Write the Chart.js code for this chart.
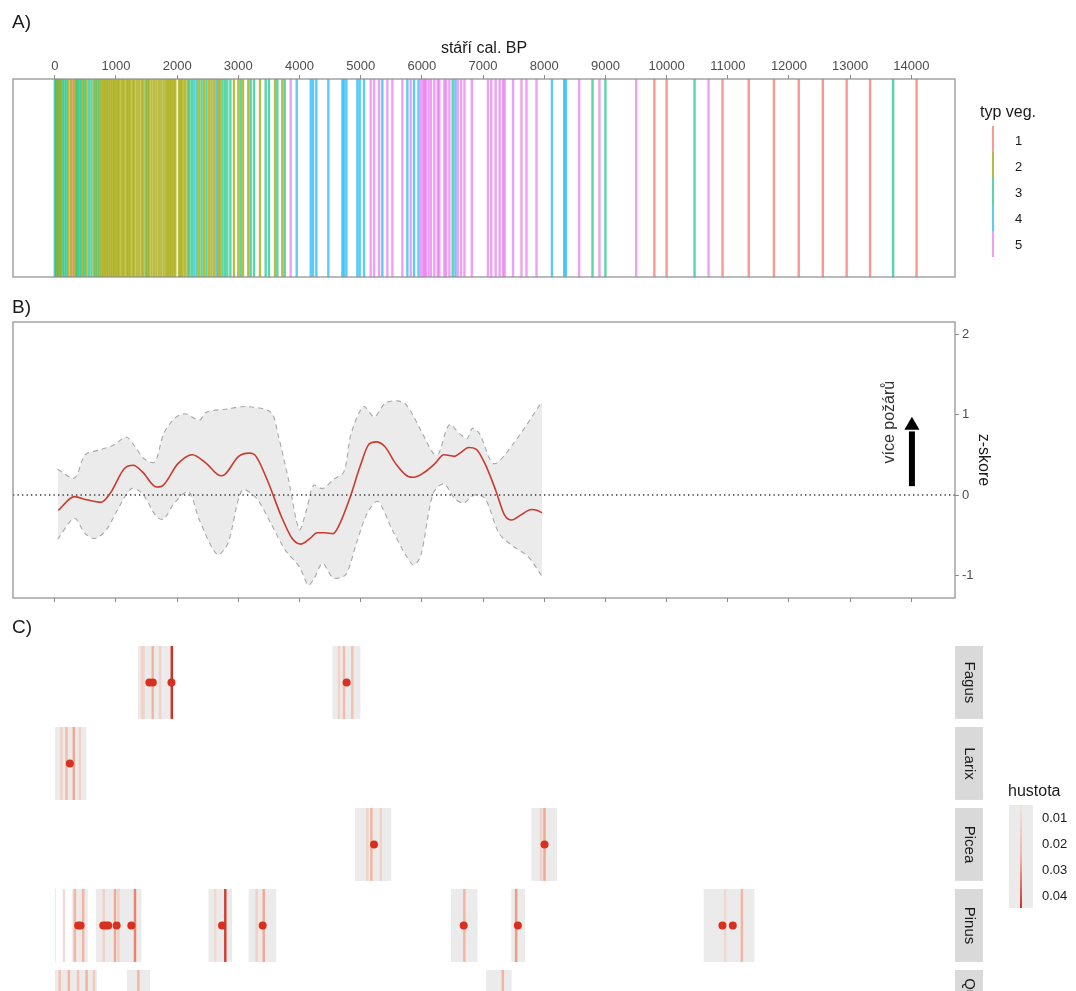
<!DOCTYPE html>
<html>
<head>
<meta charset="utf-8">
<script src="https://cdn.jsdelivr.net/npm/chart.js@4.4.0/dist/chart.umd.min.js"></script>
<style>
  body { margin: 0; background: #fff; font-family: "Liberation Sans", Arial, sans-serif; }
  #wrap { position: relative; width: 1076px; height: 991px; overflow: hidden; }
  canvas { position: absolute; left: 0; }
  .txt { position: absolute; white-space: nowrap; line-height: 1; color: #1a1a1a; }
  .panel { font-size: 19px; }
  .legtitle { font-size: 16px; }
  .legnum { font-size: 13px; color: #1a1a1a; }
</style>
</head>
<body>
<div id="wrap">
  <canvas id="chartA" width="1076" height="290" style="top:0"></canvas>
  <canvas id="chartB" width="1076" height="320" style="top:290px"></canvas>
  <canvas id="chartC" width="1076" height="381" style="top:610px"></canvas>

  <div class="txt panel" style="left:12px;top:12px">A)</div>
  <div class="txt panel" style="left:12px;top:297px">B)</div>
  <div class="txt panel" style="left:12px;top:617px">C)</div>

  <div class="txt legtitle" style="left:980px;top:104px">typ veg.</div>

  <div class="txt legtitle" style="left:1008px;top:783px">hustota</div>
</div>

<script>
// ---------- data ----------
const ageTicks = [0, 1000, 2000, 3000, 4000, 5000, 6000, 7000, 8000, 9000, 10000, 11000, 12000, 13000, 14000];

// A) dated samples (cal. BP) and their vegetation type
const vegYears = [
  0, 20, 40, 60, 80, 100, 130, 160, 190, 220, 260, 290, 320, 350, 370, 400, 430, 460, 490, 520, 560,
  600, 640, 670, 700, 730, 760, 790, 820, 850, 880, 910, 940, 970, 1000, 1030, 1060, 1100, 1130, 1170, 1200,
  1230, 1270, 1300, 1340, 1380, 1420, 1450, 1490, 1515, 1540, 1580, 1620, 1660, 1700, 1740, 1780, 1820, 1850, 1880, 1910, 1940,
  1970, 2030, 2060, 2090, 2130, 2170, 2200, 2240, 2280, 2320, 2360, 2400, 2440, 2480, 2520, 2560, 2600, 2640, 2670, 2700, 2740, 2780, 2820,
  2870, 2929, 3000, 3038, 3076, 3163, 3202, 3256, 3354, 3447, 3501, 3600, 3638, 3719, 3758, 3856, 3954, 4183, 4221, 4275, 4471,
  4700, 4728, 4766, 4946, 4984, 5055, 5164, 5218, 5300, 5354, 5436, 5518, 5681, 5763, 5818, 5872, 5945, 5984, 6022, 6044,
  6066, 6110, 6148, 6203, 6258, 6285, 6367, 6395, 6450, 6504, 6548, 6586, 6641, 6696, 6816, 7080, 7134, 7206, 7271, 7326,
  7353, 7490, 7628, 7710, 7874, 8126, 8326, 8354, 8571, 8789, 8903, 9000, 9503, 9800, 10000, 10457, 10686, 10914, 11343, 11754,
  12160, 12554, 12943, 13326, 13703, 14086
];
const vegTypes = [
  3, 4, 2, 3, 2, 2, 3, 3, 3, 2, 2, 1, 2, 2, 3, 3, 3, 2, 3, 2, 3,
  3, 2, 3, 2, 3, 2, 2, 2, 2, 2, 2, 2, 2, 2, 2, 2, 2, 2, 2, 2,
  2, 2, 2, 2, 2, 2, 2, 3, 2, 2, 2, 2, 2, 2, 2, 2, 2, 2, 2, 2, 2,
  2, 2, 2, 2, 2, 2, 3, 3, 4, 3, 2, 3, 2, 3, 2, 2, 2, 4, 2, 2, 3, 3, 3,
  3, 2, 2, 3, 2, 2, 3, 3, 2, 3, 3, 2, 3, 2, 3, 5, 4, 4, 4, 4, 4,
  4, 4, 4, 4, 4, 4, 5, 5, 5, 4, 5, 5, 5, 4, 5, 4, 4, 5, 5, 5,
  5, 5, 5, 5, 5, 5, 5, 5, 5, 3, 4, 5, 5, 5, 5, 5, 5, 5, 5, 5,
  5, 5, 5, 5, 5, 4, 4, 4, 5, 3, 5, 3, 5, 1, 1, 3, 5, 1, 1, 1,
  1, 1, 1, 1, 3, 1
];
const vegLabels = ['1', '2', '3', '4', '5'];

// B) fire activity z-score
const zTicks = [-1, 0, 1, 2];
const meanYears = [58, 321, 525, 758, 904, 1138, 1284, 1429, 1663, 1750, 2013, 2246, 2480, 2713, 2771, 3005, 3180, 3267, 3471, 3705,
  3880, 4026, 4172, 4288, 4405, 4551, 4638, 4813, 4988, 5134, 5251, 5397, 5572, 5776, 5863, 6038, 6213, 6359, 6534, 6622,
  6768, 6885, 7031, 7206, 7352, 7468, 7614, 7789, 7876, 7964];
const meanZ = [-0.19, -0.02, -0.06, -0.09, 0.02, 0.33, 0.37, 0.29, 0.10, 0.11, 0.39, 0.50, 0.39, 0.24, 0.25, 0.48, 0.52, 0.50, 0.19, -0.27,
  -0.54, -0.61, -0.54, -0.47, -0.47, -0.48, -0.39, -0.06, 0.35, 0.63, 0.66, 0.60, 0.39, 0.23, 0.22, 0.28, 0.39, 0.50, 0.48, 0.52,
  0.59, 0.57, 0.39, 0.06, -0.25, -0.31, -0.25, -0.18, -0.19, -0.22];
const upperYears = [47, 321, 496, 729, 963, 1167, 1313, 1459, 1634, 1779, 1954, 2130, 2363, 2480, 2830, 3121, 3530, 3646, 3821, 3997,
  4113, 4230, 4376, 4551, 4726, 4843, 5047, 5222, 5397, 5601, 5747, 5980, 6184, 6271, 6446, 6622, 6738, 6826, 6943, 7176, 7497, 7964];
const upperZ = [0.32, 0.21, 0.50, 0.56, 0.62, 0.72, 0.60, 0.45, 0.41, 0.76, 0.95, 1.01, 0.93, 1.03, 1.07, 1.10, 1.03, 0.76, 0.19, -0.43,
  -0.19, 0.12, 0.08, 0.19, 0.29, 0.76, 1.10, 0.97, 1.14, 1.17, 1.12, 0.81, 0.52, 0.51, 0.87, 0.76, 0.70, 0.83, 0.76, 0.39, 0.64, 1.16];
const lowerYears = [47, 321, 496, 659, 846, 1021, 1254, 1429, 1663, 1779, 1954, 2188, 2363, 2655, 2830, 3063, 3296, 3530, 3763, 3997,
  4142, 4230, 4376, 4551, 4755, 4930, 5105, 5280, 5513, 5747, 5863, 5980, 6184, 6359, 6534, 6680, 6855, 7031, 7264, 7497, 7730, 7964];
const lowerZ = [-0.55, -0.29, -0.48, -0.54, -0.43, -0.19, 0.08, 0.02, -0.27, -0.30, -0.10, 0.04, -0.31, -0.74, -0.60, 0.06, -0.04, -0.35, -0.68, -0.89,
  -1.12, -1.05, -0.85, -1.03, -0.99, -0.60, -0.23, -0.08, -0.43, -0.76, -0.87, -0.76, 0.02, 0.14, -0.04, -0.10, 0.0, -0.04, -0.48, -0.64, -0.76, -1.01];
const arrowYear = 14010;
const arrowFrom = 0.11, arrowTo = 0.79, arrowHead = 0.865;
const arrowText = 'více požárů';

// C) taxa: ranges covered by density, density lines [year, density], dated fires
const taxa = ['Fagus', 'Larix', 'Picea', 'Pinus', 'Quercus'];
const fagusRanges = [[1356, 1939], [4536, 5000]];
const fagusDens = [[1420, 0.010], [1448, 0.012], [1601, 0.020], [1721, 0.012], [1913, 0.040], [4645, 0.012], [4727, 0.018], [4863, 0.016]];
const fagusFires = [1546, 1602, 1907, 4770];
const larixRanges = [[0, 520]];
const larixDens = [[109, 0.012], [191, 0.018], [311, 0.022], [410, 0.012]];
const larixFires = [246];
const piceaRanges = [[4902, 5503], [7787, 8213]];
const piceaDens = [[5109, 0.012], [5175, 0.020], [5328, 0.012], [7950, 0.012], [8005, 0.022]];
const piceaFires = [5218, 8005];
const pinusRanges = [[0, 25], [273, 541], [667, 1421], [2508, 2897], [3164, 3623], [6475, 6913], [7459, 7689], [10602, 11438]];
const pinusDens = [[150, 0.008], [328, 0.020], [464, 0.020], [800, 0.012], [984, 0.022], [1040, 0.012], [1311, 0.028], [2620, 0.010],
  [2787, 0.038], [3300, 0.012], [3415, 0.022], [6694, 0.020], [7541, 0.024], [10956, 0.010], [11230, 0.020]];
const pinusFires = [382, 421, 792, 836, 874, 1011, 1251, 2733, 3398, 6684, 7569, 10913, 11082];
const quercusRanges = [[0, 694], [1175, 1557], [7049, 7470]];
const quercusDens = [[80, 0.016], [230, 0.020], [380, 0.016], [520, 0.020], [640, 0.014], [1366, 0.020], [7323, 0.020]];
const quercusFires = [];
const densTicks = [0.01, 0.02, 0.03, 0.04];

// ---------- styles ----------
const X_MIN = -683, X_MAX = 14714;
const vegColors = ['rgba(248,118,109,0.75)', 'rgba(163,165,0,0.75)', 'rgba(0,191,125,0.65)', 'rgba(0,176,246,0.65)', 'rgba(231,107,243,0.65)'];
const densStops = [[0, [236, 236, 236]], [0.01, [241, 216, 208]], [0.02, [246, 180, 160]], [0.03, [233, 118, 96]], [0.04, [204, 52, 38]]];
const ROW_H = 0.9;
const frameColor = '#8c8c8c';
const tickColor = '#4d4d4d';

Chart.defaults.font.family = '"Liberation Sans", Arial, sans-serif';
Chart.defaults.animation = false;
Chart.defaults.events = [];

function densColor(d) {
  for (let i = 1; i < densStops.length; i++) {
    const [v1, c1] = densStops[i];
    const [v0, c0] = densStops[i - 1];
    if (d <= v1 || i === densStops.length - 1) {
      const t = Math.min(1, Math.max(0, (d - v0) / (v1 - v0)));
      const c = c0.map((v, k) => Math.round(v + (c1[k] - v) * t));
      return `rgb(${c[0]},${c[1]},${c[2]})`;
    }
  }
}

// draws the grey panel border
const framePlugin = {
  id: 'frame',
  afterDraw(chart) {
    const { ctx, chartArea: a } = chart;
    ctx.save();
    ctx.strokeStyle = frameColor;
    ctx.lineWidth = 1.2;
    ctx.strokeRect(a.left, a.top, a.right - a.left, a.bottom - a.top);
    ctx.restore();
  }
};

const setAgeTicks = s => { s.ticks = ageTicks.map(v => ({ value: v })); };
const noPlugins = { legend: { display: false }, tooltip: { enabled: false } };

// ---------- A) vegetation types ----------
new Chart(document.getElementById('chartA'), {
  type: 'line',
  data: {
    datasets: [{
      data: vegYears.map(v => ({ x: v, y: 0.5 })),
      showLine: false,
      pointStyle: 'line',
      pointRotation: 90,
      pointRadius: ctx => ctx.chart.chartArea ? (ctx.chart.chartArea.bottom - ctx.chart.chartArea.top) / 2 : 99,
      pointBorderWidth: 2.4,
      pointBorderColor: vegTypes.map(t => vegColors[t - 1])
    }]
  },
  options: {
    responsive: false,
    layout: { autoPadding: false, padding: { left: 13, right: 121, top: 0, bottom: 13 } },
    plugins: noPlugins,
    scales: {
      x: {
        type: 'linear', position: 'top', min: X_MIN, max: X_MAX,
        afterBuildTicks: setAgeTicks,
        afterFit: s => { s.height = 79; },
        grid: { drawOnChartArea: false, tickLength: 4, color: frameColor },
        border: { display: false },
        ticks: { autoSkip: false, maxRotation: 0, padding: 1, color: tickColor, font: { size: 13 }, callback: v => String(v) },
        title: { display: true, text: 'stáří cal. BP', color: '#1a1a1a', font: { size: 16 }, padding: { top: 39, bottom: 0 } }
      },
      y: { display: false, min: 0, max: 1 }
    }
  },
  plugins: [framePlugin]
});

// ---------- B) z-score ----------
const textPlugin = {
  id: 'arrowText',
  afterDatasetsDraw(chart) {
    const { ctx, scales: { x, y } } = chart;
    ctx.save();
    ctx.translate(x.getPixelForValue(13637), y.getPixelForValue(0.905));
    ctx.rotate(-Math.PI / 2);
    ctx.font = '16px "Liberation Sans", Arial, sans-serif';
    ctx.fillStyle = '#333';
    ctx.textAlign = 'center';
    ctx.textBaseline = 'middle';
    ctx.fillText(arrowText, 0, 0);
    ctx.restore();
  }
};

new Chart(document.getElementById('chartB'), {
  type: 'line',
  data: {
    datasets: [
      { // fitted curve
        data: meanYears.map((v, i) => ({ x: v, y: meanZ[i] })),
        borderColor: '#c93a2f', borderWidth: 1.6, pointRadius: 0, cubicInterpolationMode: 'monotone'
      },
      { // zero line
        data: [{ x: X_MIN, y: 0 }, { x: X_MAX, y: 0 }],
        borderColor: '#333', borderWidth: 1.3, borderDash: [1.3, 3.2], pointRadius: 0
      },
      { // arrow shaft
        data: [{ x: arrowYear, y: arrowFrom }, { x: arrowYear, y: arrowTo }],
        borderColor: '#000', borderWidth: 6, pointRadius: 0, borderCapStyle: 'butt'
      },
      { // arrow head
        data: [{ x: arrowYear, y: arrowHead }],
        showLine: false, pointStyle: 'triangle', pointRadius: 8.7, pointBackgroundColor: '#000', pointBorderWidth: 0
      },
      { // upper confidence limit
        data: upperYears.map((v, i) => ({ x: v, y: upperZ[i] })),
        borderColor: '#a8a8a8', borderWidth: 1.1, borderDash: [5, 4], pointRadius: 0, tension: 0.3,
        fill: '+1', backgroundColor: '#ebebeb'
      },
      { // lower confidence limit
        data: lowerYears.map((v, i) => ({ x: v, y: lowerZ[i] })),
        borderColor: '#a8a8a8', borderWidth: 1.1, borderDash: [5, 4], pointRadius: 0, tension: 0.3
      }
    ]
  },
  options: {
    responsive: false,
    layout: { autoPadding: false, padding: { left: 13, right: 0, top: 32, bottom: 0 } },
    plugins: { ...noPlugins, filler: { drawTime: 'beforeDatasetsDraw' } },
    scales: {
      x: {
        type: 'linear', position: 'bottom', min: X_MIN, max: X_MAX,
        afterBuildTicks: setAgeTicks,
        afterFit: s => { s.height = 12; },
        grid: { drawOnChartArea: false, tickLength: 4, color: frameColor },
        border: { display: false },
        ticks: { display: false }
      },
      y: {
        type: 'linear', position: 'right', min: -1.28, max: 2.15,
        afterBuildTicks: s => { s.ticks = zTicks.map(v => ({ value: v })); },
        afterFit: s => { s.width = 121; },
        grid: { drawOnChartArea: false, tickLength: 4, color: frameColor },
        border: { display: false },
        ticks: { padding: 3, color: tickColor, font: { size: 13 }, callback: v => String(v) },
        title: { display: true, text: 'z-skore', color: '#1a1a1a', font: { size: 16 }, padding: { top: 83, bottom: 0 } }
      }
    }
  },
  plugins: [framePlugin, textPlugin]
});

// ---------- C) taxa ----------
const rowRanges = [fagusRanges, larixRanges, piceaRanges, pinusRanges, quercusRanges];
const rowDens = [fagusDens, larixDens, piceaDens, pinusDens, quercusDens];
const rowFires = [fagusFires, larixFires, piceaFires, pinusFires, quercusFires];

const halfRow = ctx => {
  const s = ctx.chart.scales.y;
  return s ? Math.abs(s.getPixelForValue(ROW_H) - s.getPixelForValue(0)) / 2 : 36;
};

const datasetsC = [];
taxa.forEach((name, i) => {
  const mid = i + ROW_H / 2;
  datasetsC.push({
    data: rowFires[i].map(v => ({ x: v, y: mid })),
    showLine: false, pointRadius: 4, pointBackgroundColor: '#d7301f', pointBorderWidth: 0, order: 0
  });
  datasetsC.push({
    data: rowDens[i].map(d => ({ x: d[0], y: mid })),
    showLine: false, pointStyle: 'line', pointRotation: 90, pointRadius: halfRow,
    pointBorderWidth: 2.5, pointBorderColor: rowDens[i].map(d => densColor(d[1])), order: 1
  });
  const pts = [];
  rowRanges[i].forEach(r => { pts.push({ x: r[0], y: i }, { x: r[1], y: i }, { x: r[1], y: null }); });
  datasetsC.push({
    data: pts, borderWidth: 0, borderColor: 'rgba(0,0,0,0)', pointRadius: 0,
    fill: { value: i + ROW_H }, backgroundColor: '#ebebeb', spanGaps: false, order: 2
  });
});

const stripPlugin = {
  id: 'strips',
  afterDraw(chart) {
    const { ctx, chartArea: a, scales: { y } } = chart;
    ctx.save();
    taxa.forEach((name, i) => {
      const top = y.getPixelForValue(i), bot = y.getPixelForValue(i + ROW_H);
      ctx.fillStyle = '#d9d9d9';
      ctx.fillRect(a.right, top, 28, bot - top);
      ctx.save();
      ctx.translate(a.right + 14, (top + bot) / 2);
      ctx.rotate(Math.PI / 2);
      ctx.font = '15px "Liberation Sans", Arial, sans-serif';
      ctx.fillStyle = '#1a1a1a';
      ctx.textAlign = 'center';
      ctx.textBaseline = 'middle';
      ctx.fillText(name, 0, 0);
      ctx.restore();
    });
    ctx.restore();
  }
};

new Chart(document.getElementById('chartC'), {
  type: 'line',
  data: { datasets: datasetsC },
  options: {
    responsive: false,
    layout: { autoPadding: false, padding: { left: 13, right: 121, top: 36, bottom: 0 } },
    plugins: noPlugins,
    scales: {
      x: { type: 'linear', display: false, min: X_MIN, max: X_MAX },
      y: { type: 'linear', display: false, reverse: true, min: 0, max: 4.259 }
    }
  },
  plugins: [stripPlugin]
});

// ---------- legends ----------
const wrap = document.getElementById('wrap');
vegLabels.forEach((lab, i) => {
  const seg = document.createElement('div');
  seg.style.cssText = `position:absolute;left:992px;top:${126 + i * 26.2}px;width:2px;height:26.2px;background:${vegColors[i]}`;
  wrap.appendChild(seg);
  const t = document.createElement('div');
  t.className = 'txt legnum';
  t.style.left = '1015px';
  t.style.top = (140.7 + i * 25.8 - 6.3) + 'px';
  t.textContent = lab;
  wrap.appendChild(t);
});

const bar = document.createElement('div');
bar.style.cssText = 'position:absolute;left:1009px;top:805px;width:24px;height:103px;background:#ebebeb';
wrap.appendChild(bar);
const grad = document.createElement('div');
grad.style.cssText = `position:absolute;left:1020px;top:805px;width:2px;height:103px;background:linear-gradient(${densColor(0.005)}, ${densColor(0.02)}, ${densColor(0.045)})`;
wrap.appendChild(grad);
densTicks.forEach((v, i) => {
  const t = document.createElement('div');
  t.className = 'txt legnum';
  t.style.left = '1042px';
  t.style.top = (817 + i * 26 - 6.3) + 'px';
  t.textContent = v.toFixed(2);
  wrap.appendChild(t);
});
</script>
</body>
</html>
